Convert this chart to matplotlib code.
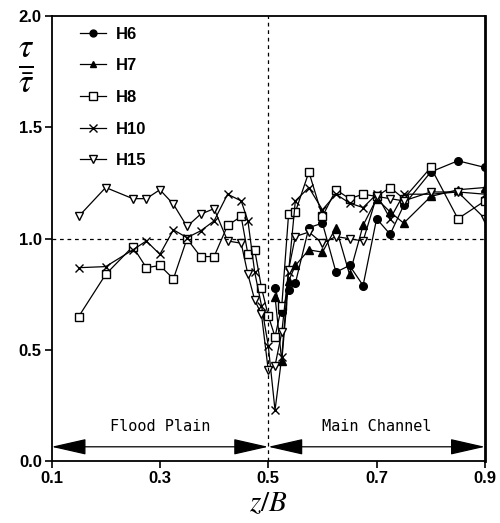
import matplotlib
matplotlib.use("Agg")
import matplotlib.pyplot as plt
import numpy as np

# z/B stations
z_main = [0.5125, 0.525, 0.5375, 0.55, 0.575, 0.6, 0.625, 0.65, 0.675,
          0.7, 0.725, 0.75, 0.8, 0.85, 0.9]
z_all = [0.15, 0.2, 0.25, 0.275, 0.3, 0.325, 0.35, 0.375, 0.4, 0.425,
         0.45, 0.4625, 0.475, 0.4875, 0.5] + z_main

h6 = [0.78, 0.67, 0.77, 0.80, 1.05, 1.07, 0.85, 0.88, 0.79, 1.09, 1.02,
      1.15, 1.30, 1.35, 1.32]
h7 = [0.74, 0.45, 0.81, 0.88, 0.95, 0.94, 1.05, 0.84, 1.06, 1.18, 1.12,
      1.07, 1.19, 1.22, 1.23]
h8 = [0.65, 0.84, 0.965, 0.87, 0.88, 0.82, 1.00, 0.92, 0.92, 1.06, 1.10,
      0.93, 0.95, 0.78, 0.655,
      0.56, 0.70, 1.11, 1.12, 1.30, 1.10, 1.22, 1.18, 1.20, 1.19, 1.23,
      1.18, 1.32, 1.09, 1.17]
h10 = [0.87, 0.875, 0.95, 0.99, 0.93, 1.04, 1.005, 1.035, 1.08, 1.20, 1.17,
       1.08, 0.85, 0.70, 0.52,
       0.23, 0.47, 0.85, 1.17, 1.23, 1.13, 1.20, 1.16, 1.14, 1.20, 1.09,
       1.20, 1.20, 1.21, 1.20]
h15 = [1.10, 1.23, 1.18, 1.18, 1.22, 1.155, 1.055, 1.11, 1.135, 0.99, 0.98,
       0.84, 0.725, 0.66, 0.41,
       0.43, 0.58, 0.86, 1.01, 1.03, 0.98, 1.01, 1.00, 0.99, 1.19, 1.18,
       1.17, 1.21, 1.21, 1.09]

plt.rcParams['font.family'] = ['Liberation Sans', 'DejaVu Sans']
fig = plt.figure(figsize=(5, 5.23), dpi=100)
ax = fig.add_axes([0.103, 0.1176, 0.867, 0.8518])

lw = 0.9
ax.plot(z_main, h6, '-o', color='black', lw=lw, ms=5.5, label='H6')
ax.plot(z_main, h7, '-^', color='black', lw=lw, ms=5.5, label='H7')
ax.plot(z_all, h8, '-s', color='black', mfc='white', lw=lw, ms=6, label='H8')
ax.plot(z_all, h10, '-x', color='black', lw=lw, ms=6, mew=1, label='H10')
ax.plot(z_all, h15, '-v', color='black', mfc='white', lw=lw, ms=6, label='H15')

ax.axhline(1.0, color='black', lw=0.9, ls=(0, (3, 3)))
ax.axvline(0.5, color='black', lw=0.9, ls=(0, (3, 3)))

# region arrows
arr = dict(arrowstyle='<|-|>,head_length=2.2,head_width=0.5', color='black',
           lw=0.9, shrinkA=0, shrinkB=0, mutation_scale=10)
ax.annotate('', xy=(0.1, 0.066), xytext=(0.5, 0.066), arrowprops=arr)
ax.annotate('', xy=(0.5, 0.066), xytext=(0.9, 0.066), arrowprops=arr)
ax.text(0.3, 0.155, 'Flood Plain', family='DejaVu Sans Mono', fontsize=11,
        ha='center', va='center')
ax.text(0.7, 0.155, 'Main Channel', family='DejaVu Sans Mono', fontsize=11,
        ha='center', va='center')

ax.set_xlim(0.1, 0.9)
ax.set_ylim(0.0, 2.0)
ax.set_xticks([0.1, 0.3, 0.5, 0.7, 0.9])
ax.set_xticklabels(['0.1', '0.3', '0.5', '0.7', '0.9'])
ax.set_yticks([0.0, 0.5, 1.0, 1.5, 2.0])
ax.set_yticklabels(['0.0', '0.5', '1.0', '1.5', '2.0'])
ax.tick_params(direction='out', length=5, width=1.2, labelsize=12, pad=2)
for t in ax.get_xticklabels() + ax.get_yticklabels():
    t.set_fontweight('bold')
for s in ['left', 'bottom', 'top']:
    ax.spines[s].set_linewidth(1.3)
ax.spines['right'].set_linewidth(2)

ax.set_xlabel(r'$z/B$', fontsize=21, labelpad=2, math_fontfamily='stix')
fig.text(0.052, 0.87, r'$\frac{\tau}{\bar{\tau}}$', fontsize=34,
         ha='center', va='center', math_fontfamily='stix')

leg = ax.legend(loc='upper left', bbox_to_anchor=(0.03, 1.01), frameon=False,
                handlelength=1.6, labelspacing=1.0, prop={'weight': 'bold', 'size': 12},
                handletextpad=0.6, markerscale=0.9)

fig.savefig('out.png', dpi=100)
